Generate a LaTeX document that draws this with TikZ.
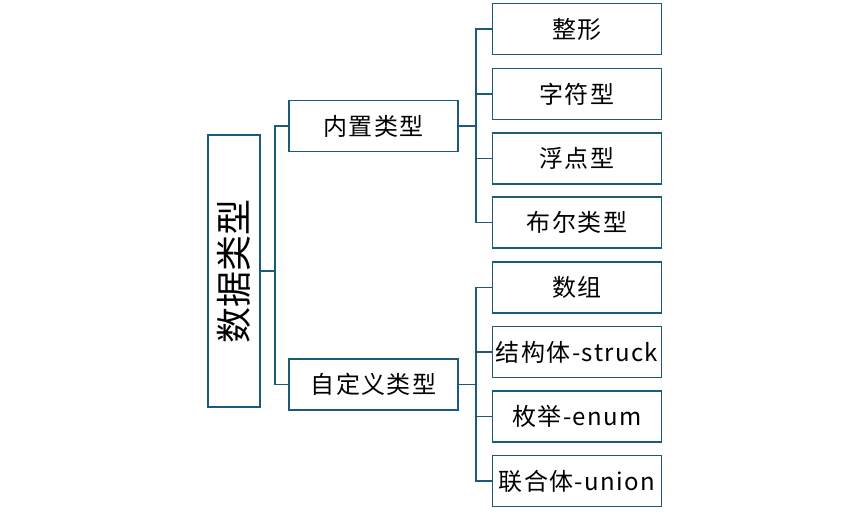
\documentclass[tikz,border=0pt]{standalone}
\usepackage{fontspec}
\setmainfont{Noto Sans CJK SC}
\usepackage{graphicx}
\definecolor{linec}{HTML}{1C5A7A}
\tikzset{
  box/.style={draw=linec, line width=1.9pt, minimum width=169pt, minimum height=51pt, inner sep=0pt, font=\fontsize{24}{26}\selectfont\addfontfeature{LetterSpace=6}, text=black},
  conn/.style={draw=linec, line width=1.9pt},
}
\begin{document}
\begin{tikzpicture}[x=1pt,y=-1pt]
\useasboundingbox (0,0) rectangle (865,516);
\node[draw=linec, line width=1.9pt, minimum width=52pt, minimum height=272pt, inner sep=0pt] (root) at (234,271) {\rotatebox{90}{\fontsize{36}{38}\selectfont 数据类型}};
\node[box] (nz) at (373.5,126) {内置类型};
\node[box] (zdy) at (373.5,384.5) {自定义类型};
\node[box] (a1) at (577,29) {整形};
\node[box] (a2) at (577,94) {字符型};
\node[box] (a3) at (577,158.5) {浮点型};
\node[box] (a4) at (577,222.5) {布尔类型};
\node[box] (b1) at (577,287.5) {数组};
\node[box] (b2) at (577,352) {结构体-struck};
\node[box] (b3) at (577,416.5) {枚举-enum};
\node[box] (b4) at (577,481) {联合体-union};
\draw[conn] (root.east) -- ++(14,0) coordinate (j0);
\draw[conn] (j0) |- (nz.west);
\draw[conn] (j0) |- (zdy.west);
\draw[conn] (nz.east) -- ++(17,0) coordinate (j1);
\foreach \n in {a1,a2,a3,a4} \draw[conn] (j1) |- (\n.west);
\draw[conn] (zdy.east) -- ++(17,0) coordinate (j2);
\foreach \n in {b1,b2,b3,b4} \draw[conn] (j2) |- (\n.west);
\end{tikzpicture}
\end{document}
